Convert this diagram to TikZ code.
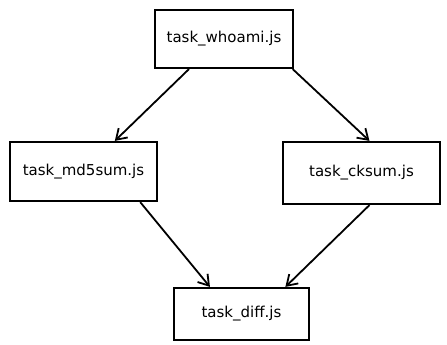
\documentclass[tikz,border=0pt]{standalone}
\usepackage{fontspec}
\setmainfont{DejaVu Sans}
\usetikzlibrary{positioning,calc,arrows.meta}
\begin{document}
\begin{tikzpicture}[x=1pt,y=-1pt,
  task/.style={draw,line width=2.2pt,inner sep=0pt,font=\fontsize{15}{18}\selectfont},
  dep/.style={-{Straight Barb[length=10pt,width=13pt,line width=1.8pt]},line width=1.8pt}]
\useasboundingbox (0,0) rectangle (447,345);
\node[task,minimum width=138pt,minimum height=58pt] (whoami) at (224,39) {task\_whoami.js};
\node[task,minimum width=147pt,minimum height=59pt] (md5sum) at (83.5,171.5) {task\_md5sum.js};
\node[task,minimum width=157pt,minimum height=62pt] (cksum) at (361.5,173) {task\_cksum.js};
\node[task,minimum width=135pt,minimum height=52pt] (diff) at (241.5,314) {task\_diff.js};
%% edges
\draw[dep] ($(whoami.south west)!0.25!(whoami.south east)$) -- ($(md5sum.north west)!0.71!(md5sum.north east)$);
\draw[dep] ($(whoami.south west)!0.99!(whoami.south east)$) -- ($(cksum.north west)!0.55!(cksum.north east)$);
\draw[dep] ($(md5sum.south west)!0.88!(md5sum.south east)$) -- ($(diff.north west)!0.27!(diff.north east)$);
\draw[dep] ($(cksum.south west)!0.55!(cksum.south east)$) -- ($(diff.north west)!0.82!(diff.north east)$);
\end{tikzpicture}
\end{document}
